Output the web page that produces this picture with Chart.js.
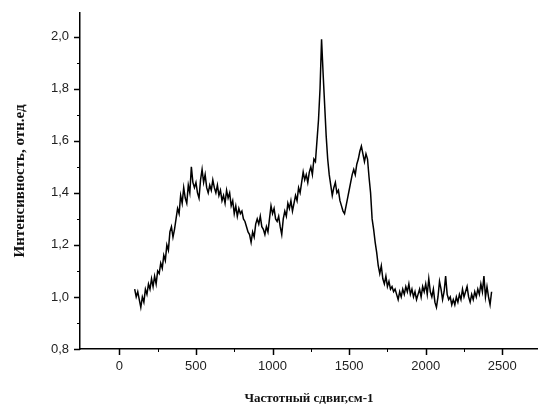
<!DOCTYPE html>
<html>
<head>
<meta charset="utf-8">
<script src="https://cdn.jsdelivr.net/npm/chart.js@4"></script>
<style>
  body { margin: 0; background: #fff; }
  #wrap { width: 538px; height: 406px; }
</style>
</head>
<body>
<div id="wrap"><canvas id="ramanChart"></canvas></div>
<script>
// Raman shift sampled every 10 cm-1 starting at 100
const shiftStart = 100;
const shiftStep = 10;

// intensity, rel. units (100 .. 2430 cm-1)
const intensity = [
    1.03, 1.00, 1.02, 0.99, 0.96, 1.00, 0.98, 1.03, 1.01, 1.05,   // 100-190
    1.03, 1.07, 1.04, 1.08, 1.05, 1.10, 1.09, 1.13, 1.11, 1.16,   // 200-290
    1.14, 1.20, 1.18, 1.25, 1.27, 1.23, 1.26, 1.30, 1.34, 1.32,   // 300-390
    1.39, 1.36, 1.42, 1.38, 1.36, 1.43, 1.40, 1.50, 1.44, 1.42,   // 400-490
    1.44, 1.40, 1.38, 1.45, 1.49, 1.44, 1.47, 1.42, 1.40, 1.43,   // 500-590
    1.41, 1.45, 1.42, 1.40, 1.43, 1.39, 1.41, 1.37, 1.39, 1.36,   // 600-690
    1.41, 1.38, 1.40, 1.35, 1.37, 1.32, 1.35, 1.31, 1.34, 1.32,   // 700-790
    1.33, 1.30, 1.29, 1.27, 1.25, 1.24, 1.21, 1.25, 1.23, 1.28,   // 800-890
    1.30, 1.28, 1.31, 1.27, 1.26, 1.24, 1.27, 1.25, 1.30, 1.35,   // 900-990
    1.32, 1.34, 1.30, 1.29, 1.31, 1.27, 1.24, 1.30, 1.33, 1.31,   // 1000-1090
    1.36, 1.34, 1.37, 1.33, 1.36, 1.39, 1.37, 1.42, 1.40, 1.44,   // 1100-1190
    1.48, 1.45, 1.47, 1.44, 1.48, 1.50, 1.47, 1.53, 1.52, 1.60,   // 1200-1290
    1.68, 1.80, 1.99, 1.86, 1.74, 1.62, 1.53, 1.47, 1.43, 1.39,   // 1300-1390
    1.42, 1.44, 1.40, 1.41, 1.37, 1.35, 1.33, 1.32, 1.35, 1.38,   // 1400-1490
    1.41, 1.44, 1.47, 1.49, 1.47, 1.51, 1.53, 1.56, 1.58, 1.55,   // 1500-1590
    1.52, 1.55, 1.53, 1.46, 1.40, 1.30, 1.26, 1.21, 1.17, 1.12,   // 1600-1690
    1.09, 1.12, 1.07, 1.05, 1.08, 1.04, 1.06, 1.03, 1.04, 1.02,   // 1700-1790
    1.03, 1.01, 0.99, 1.02, 1.00, 1.03, 1.01, 1.04, 1.02, 1.05,   // 1800-1890
    1.01, 1.03, 1.00, 1.02, 0.99, 1.01, 1.03, 1.00, 1.04, 1.02,   // 1900-1990
    1.05, 1.01, 1.07, 1.02, 1.00, 1.03, 0.98, 0.96, 1.00, 1.06,   // 2000-2090
    1.03, 0.99, 1.02, 1.08, 1.01, 0.99, 1.00, 0.97, 0.99, 0.97,   // 2100-2190
    1.00, 0.98, 1.01, 0.99, 1.03, 1.00, 1.02, 1.04, 1.00, 0.98,   // 2200-2290
    1.01, 0.99, 1.02, 1.00, 1.03, 1.01, 1.05, 1.02, 1.08, 1.00,   // 2300-2390
    1.04, 1.00, 0.97, 1.02                                        // 2400-2430
];

const xTicks = [0, 500, 1000, 1500, 2000, 2500];
const xMinor = [250, 750, 1250, 1750, 2250];
const yTicks = [0.8, 1.0, 1.2, 1.4, 1.6, 1.8, 2.0];
const yMinor = [0.9, 1.1, 1.3, 1.5, 1.7, 1.9];

const points = intensity.map((v, i) => ({ x: shiftStart + i * shiftStep, y: v }));

// outward tick marks: long at labelled values, short in between
const axisTicks = {
    id: 'axisTicks',
    afterDraw(chart) {
        const ctx = chart.ctx;
        const xs = chart.scales.x, ys = chart.scales.y;
        const mark = (vals, len, width) => {
            ctx.lineWidth = width;
            ctx.beginPath();
            vals.forEach(v => {
                const px = Math.round(xs.getPixelForValue(v)) + 0.5;
                ctx.moveTo(px, xs.top);
                ctx.lineTo(px, xs.top + len);
            });
            ctx.stroke();
        };
        const markY = (vals, len, width) => {
            ctx.lineWidth = width;
            ctx.beginPath();
            vals.forEach(v => {
                const py = Math.round(ys.getPixelForValue(v)) + 0.5;
                ctx.moveTo(ys.right - len, py);
                ctx.lineTo(ys.right, py);
            });
            ctx.stroke();
        };
        ctx.save();
        ctx.strokeStyle = '#000';
        mark(xTicks, 6, 1.5);
        mark(xMinor, 3, 1);
        markY(yTicks, 6, 1.5);
        markY(yMinor, 3, 1);
        ctx.restore();
    }
};

const tickFont = { family: '"Liberation Sans", Arial, sans-serif', size: 13 };
const titleFont = { family: '"Liberation Serif", "Times New Roman", serif', size: 15, weight: 'bold' };

new Chart(document.getElementById('ramanChart'), {
    type: 'line',
    data: {
        datasets: [{
            data: points,
            borderColor: '#000',
            borderWidth: 1.5,
            pointRadius: 0,
            tension: 0
        }]
    },
    options: {
        responsive: true,
        maintainAspectRatio: false,
        animation: false,
        layout: { padding: { top: 12, right: 0, bottom: 0, left: 0 } },
        plugins: {
            legend: { display: false },
            tooltip: { enabled: false }
        },
        scales: {
            x: {
                type: 'linear',
                min: -257,
                max: 2733,
                afterBuildTicks: s => { s.ticks = xTicks.map(v => ({ value: v })); },
                afterFit: s => { s.height = 57; },
                ticks: {
                    font: tickFont,
                    color: '#222',
                    padding: 4,
                    maxRotation: 0,
                    autoSkip: false,
                    callback: v => String(v)
                },
                grid: { display: true, drawOnChartArea: false, tickLength: 6, color: 'rgba(0,0,0,0)' },
                border: { color: '#000', width: 1.5 },
                title: { display: true, text: 'Частотный сдвиг,см-1', font: { ...titleFont, size: 13 }, color: '#111', padding: 0 }
            },
            y: {
                min: 0.8,
                max: 2.092,
                afterBuildTicks: s => { s.ticks = yTicks.map(v => ({ value: v })); },
                afterFit: s => { s.width = 80; },
                ticks: {
                    font: tickFont,
                    color: '#222',
                    padding: 5,
                    callback: v => v.toFixed(1).replace('.', ',')
                },
                grid: { display: true, drawOnChartArea: false, tickLength: 6, color: 'rgba(0,0,0,0)' },
                border: { color: '#000', width: 1.5 },
                title: { display: true, text: 'Интенсивность, отн.ед', font: titleFont, color: '#111', padding: { top: 11, bottom: 0 } }
            }
        }
    },
    plugins: [axisTicks]
});
</script>
</body>
</html>
